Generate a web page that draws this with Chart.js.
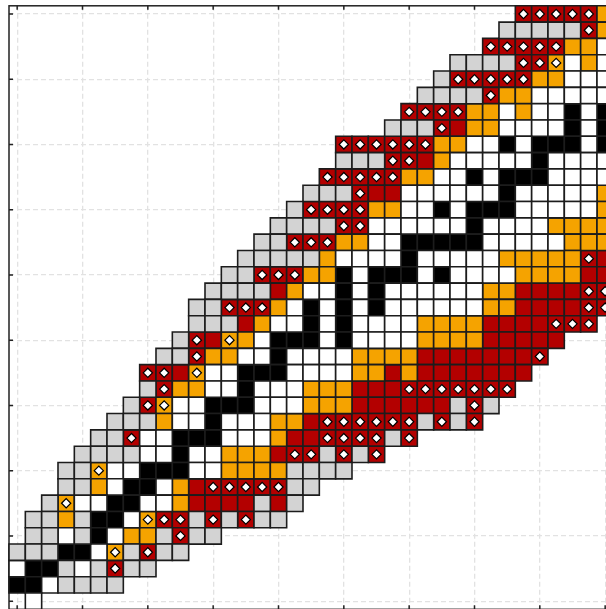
<!DOCTYPE html>
<html>
<head>
<meta charset="utf-8">
<script src="https://cdn.jsdelivr.net/npm/chart.js@4.4.1/dist/chart.umd.min.js"></script>
<style>
html,body{margin:0;padding:0;overflow:hidden;background:#ffffff;}
#c{display:block;position:absolute;left:0;top:0;}
</style>
</head>
<body>
<canvas id="c" width="620" height="616"></canvas>
<script>
// ---- data ----
const gridSize = 37;                       // 37 x 37 cells, indices 0..36
const tickValues = [0, 4, 8, 12, 16, 20, 24, 28, 32, 36];
// cell states: G gray, W white, O orange, R red, B black; r / o = red / orange with a diamond mark
const stateKeys = ['G', 'W', 'O', 'R', 'B'];
const markedStates = ['r', 'o'];
// row listing from the top row (y = 36) down to the bottom row (y = 0)
const rowStart = [31, 30, 29, 27, 26, 25, 24, 23, 20, 20, 19, 18, 17, 16, 15, 14, 13, 12, 11, 11,
                  10, 9, 8, 8, 7, 6, 5, 4, 3, 3, 2, 1, 1, 0, 0, 0, 1];
const rowCells = [
  'rrrrrO',
  'GGGGGrO',
  'rrrrrOOW',
  'GGGGrroWOW',
  'GrrrrrOOWWW',
  'GGGGrOOWWWWW',
  'rrrrOOWOWWBWB',
  'GGGrROOWWWWBWB',
  'rrrrrrOOWWBWBBBWB',
  'GGGrrROWWWWWBWWWW',
  'rrrrrOOWWBWBBBWWWW',
  'GGGrRRWWWWWWBWWWWWO',
  'GrrrrOOWWBWBBBWWWWWO',
  'GGGGrrWWWWWWBWWWWOOOO',
  'GGrrrOOWWBBBBBWWWWWOOO',
  'GGGGGOWWWWBWWWWWOOOOOrR',
  'GGrrrOOBWBBBWBWWWWOOOORR',
  'GGGGROWWBWBWWWWWWOORRRRrr',
  'GGrrrOWBWBWBWWWWWWOORRRRrr',
  'GGGROWWBWBWWWWOOOORRRRrrr',
  'GrRoOWBBBWBWWWWOOOORRRRR',
  'GGrOOWWBWWWWOOOORRRRRRRr',
  'rrRoWWBBBWWWWOORORRRRRRR',
  'GrOOWWBWWWOOORRRrrrrrrr',
  'GroWWBBBWWWOOORRRRRRGrG',
  'GGGOWWBWWWOORrrrrrrGrGr',
  'GGrWWBBBWWWORRrrrrGr',
  'GGGGWWBWWOOORrrGrGr',
  'GGoWWBBBWWOOOOGGGG',
  'GGOWBBWORrrrrrGG',
  'GoWWBBWWORRRRGRG',
  'GGOGBBWorrGrGrGG',
  'GGWGBWOOGrGG',
  'GGGBBWoGrGG',
  'WBBGWGrGG',
  'BBWGGGG',
  'W'
];

// ---- styles ----
const fillColors = { G: '#d3d3d3', W: '#ffffff', O: '#f5a300', R: '#b30000', B: '#000000' };
const cellBorder = '#1c1c1c';

// ---- build point lists through the scales ----
const cellPoints = { G: [], W: [], O: [], R: [], B: [] };
const markPoints = [];
rowCells.forEach((cells, r) => {
  for (let i = 0; i < cells.length; i++) {
    let ch = cells[i];
    if (ch === '.') continue;
    const pt = { x: rowStart[r] + i, y: gridSize - 1 - r };
    if (markedStates.includes(ch)) { markPoints.push(pt); ch = ch.toUpperCase(); }
    cellPoints[ch].push(pt);
  }
});

const cellRadius = (ctx) => {
  const s = ctx.chart.scales.x;
  return Math.abs(s.getPixelForValue(1) - s.getPixelForValue(0)) / Math.SQRT2;
};

const datasets = stateKeys.map(k => ({
  label: k,
  data: cellPoints[k],
  pointStyle: 'rect',
  pointRadius: cellRadius,
  pointHoverRadius: cellRadius,
  backgroundColor: fillColors[k],
  borderColor: cellBorder,
  borderWidth: 1.6,
  pointHoverBorderWidth: 1.6,
  order: 2,
  clip: false
}));
datasets.push({
  label: 'mark',
  data: markPoints,
  pointStyle: 'rectRot',
  pointRadius: 4.6,
  pointHoverRadius: 4.6,
  backgroundColor: '#ffffff',
  borderColor: '#000000',
  borderWidth: 1.2,
  order: 1,
  clip: false
});

const setTicks = (scale) => { scale.ticks = tickValues.map(v => ({ value: v })); };
const axis = () => ({
  type: 'linear',
  min: -0.5,
  max: gridSize - 0.5,
  afterBuildTicks: setTicks,
  ticks: { display: false },
  grid: { color: '#e2e2e2', lineWidth: 1.3, drawTicks: false },
  border: { display: false, dash: [5, 3] }
});

const framePlugin = {
  id: 'frame',
  beforeDatasetsDraw(chart) {
    const { ctx, chartArea: a, scales: { x, y } } = chart;
    ctx.save();
    ctx.strokeStyle = '#222222';
    ctx.lineWidth = 1.5;
    ctx.strokeRect(a.left, a.top, a.right - a.left, a.bottom - a.top);
    ctx.beginPath();
    x.ticks.forEach(t => {
      const p = x.getPixelForValue(t.value);
      ctx.moveTo(p, a.top); ctx.lineTo(p, a.top + 4);
      ctx.moveTo(p, a.bottom); ctx.lineTo(p, a.bottom - 4);
    });
    y.ticks.forEach(t => {
      const p = y.getPixelForValue(t.value);
      ctx.moveTo(a.left, p); ctx.lineTo(a.left + 4, p);
      ctx.moveTo(a.right, p); ctx.lineTo(a.right - 4, p);
    });
    ctx.stroke();
    ctx.restore();
  }
};

const cell = 16.333;
new Chart(document.getElementById('c'), {
  type: 'scatter',
  data: { datasets },
  options: {
    responsive: false,
    devicePixelRatio: 1,
    animation: false,
    events: [],
    layout: { padding: { left: 9, top: 5, right: 620 - 9 - cell * gridSize, bottom: 616 - 5 - cell * gridSize } },
    plugins: { legend: { display: false }, tooltip: { enabled: false }, title: { display: false } },
    scales: { x: axis(), y: axis() }
  },
  plugins: [framePlugin]
});
</script>
</body>
</html>
